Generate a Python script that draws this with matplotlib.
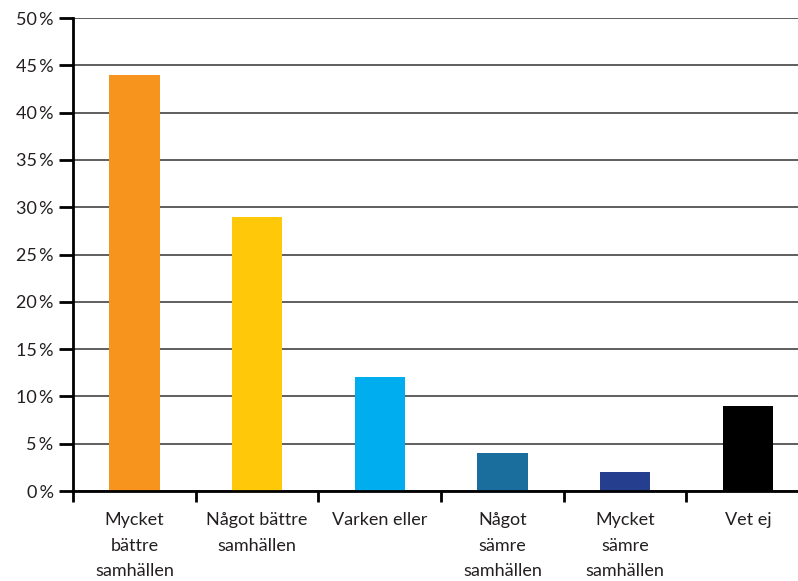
import matplotlib
matplotlib.use("Agg")
from matplotlib import pyplot as plt
import numpy as np

plt.rcParams['font.family'] = ['Lato', 'DejaVu Sans']

# ===================== Data =====================
categories = [
    "Mycket\nbättre\nsamhällen",
    "Något bättre\nsamhällen",
    "Varken eller",
    "Något\nsämre\nsamhällen",
    "Mycket\nsämre\nsamhällen",
    "Vet ej",
]
values = [44, 29, 12, 4, 2, 9]
colors = ["#F7941D", "#FFC808", "#00AEEF", "#1A6E9E", "#253F8E", "#000000"]
yticks = [0, 5, 10, 15, 20, 25, 30, 35, 40, 45, 50]

# ===================== Figure =====================
fig = plt.figure(figsize=(7.98, 5.81), dpi=100)
ax = fig.add_axes([0.0915, 0.1549, 1.014 - 0.0915, 0.969 - 0.1549])

x = np.arange(len(categories))
ax.bar(x, values, width=0.41, color=colors, zorder=3)

ax.set_xlim(-0.5, len(categories) - 0.5)
ax.set_ylim(0, 50)

ax.set_yticks(yticks)
ax.set_yticklabels([f"{v}\u2009%" for v in yticks], fontsize=13, color="#231F20")
ax.yaxis.grid(True, color="#333333", linewidth=1.1, zorder=0)
ax.tick_params(axis="y", direction="out", length=10, width=2, pad=4)

ax.set_xticks(x)
ax.set_xticklabels(categories, fontsize=13, color="#231F20", linespacing=1.75, va="top")
ax.set_xticks(np.arange(-0.5, len(categories) + 0.5, 1), minor=True)
ax.tick_params(axis="x", which="major", length=0, pad=15)
ax.tick_params(axis="x", which="minor", direction="out", length=8, width=2)

for side in ["top", "right"]:
    ax.spines[side].set_visible(False)
for side in ["left", "bottom"]:
    ax.spines[side].set_linewidth(2)
    ax.spines[side].set_zorder(4)

fig.savefig("out.png", dpi=100)
